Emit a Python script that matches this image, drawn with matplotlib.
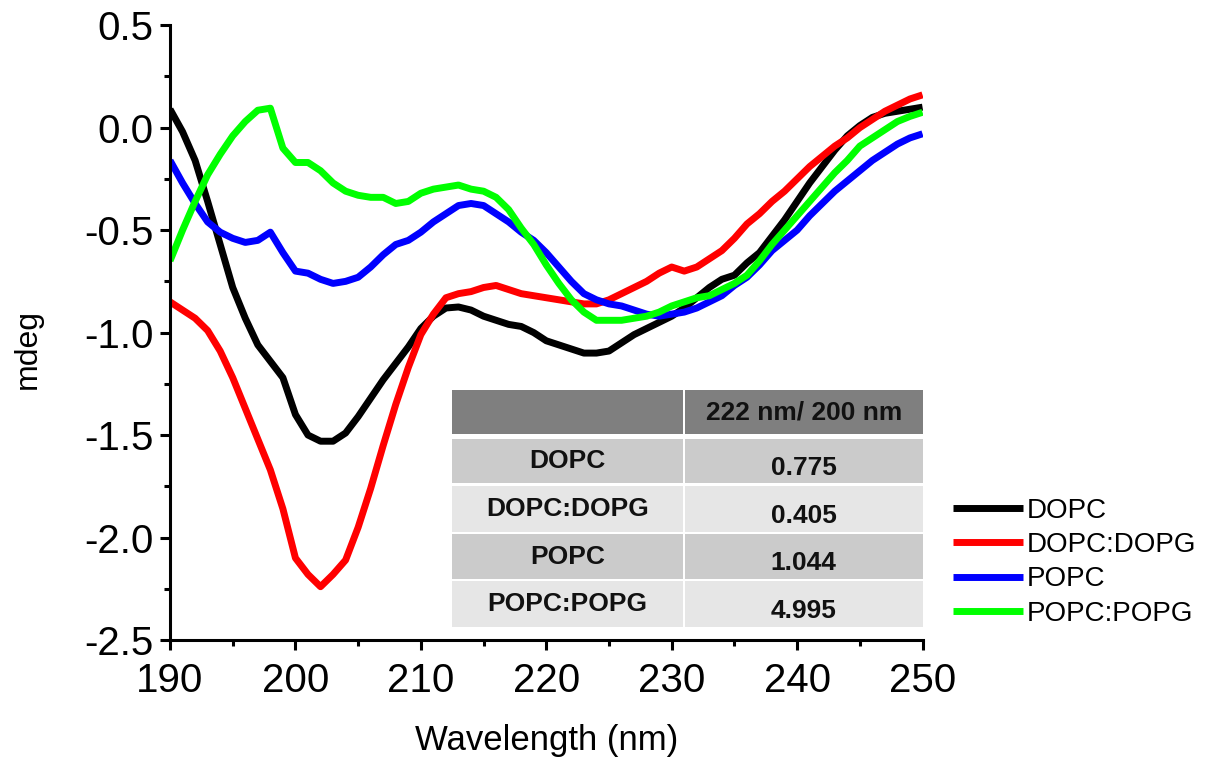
import numpy as np
import matplotlib
matplotlib.use("Agg")
import matplotlib.pyplot as plt
from matplotlib.patches import Rectangle
from matplotlib.ticker import MultipleLocator, FormatStrFormatter

plt.rcParams["font.family"] = ["Liberation Sans", "DejaVu Sans"]
plt.rcParams["axes.unicode_minus"] = False

wavelength = np.arange(190, 251)

dopc = [0.09, -0.02, -0.16, -0.36, -0.57, -0.78, -0.93, -1.06, -1.14, -1.22,
        -1.40, -1.50, -1.53, -1.53, -1.49, -1.41, -1.32, -1.23, -1.15, -1.07,
        -0.98, -0.92, -0.88, -0.875, -0.89, -0.92, -0.94, -0.96, -0.97, -1.00,
        -1.04, -1.06, -1.08, -1.10, -1.10, -1.09, -1.05, -1.01, -0.98, -0.95,
        -0.92, -0.88, -0.83, -0.78, -0.74, -0.72, -0.66, -0.61, -0.53, -0.45,
        -0.36, -0.27, -0.19, -0.11, -0.04, 0.01, 0.05, 0.07, 0.08, 0.09, 0.10]

dopc_dopg = [-0.85, -0.89, -0.93, -0.99, -1.09, -1.22, -1.37, -1.52, -1.67, -1.86,
             -2.10, -2.18, -2.24, -2.18, -2.11, -1.95, -1.76, -1.55, -1.35, -1.17,
             -1.01, -0.91, -0.83, -0.81, -0.80, -0.78, -0.77, -0.79, -0.81, -0.82,
             -0.83, -0.84, -0.85, -0.86, -0.86, -0.84, -0.81, -0.78, -0.75, -0.71,
             -0.68, -0.70, -0.68, -0.64, -0.60, -0.54, -0.47, -0.42, -0.36, -0.31,
             -0.25, -0.19, -0.14, -0.09, -0.05, 0.00, 0.04, 0.08, 0.11, 0.14, 0.16]

popc = [-0.16, -0.27, -0.37, -0.46, -0.51, -0.54, -0.56, -0.55, -0.51, -0.61,
        -0.70, -0.71, -0.74, -0.76, -0.75, -0.73, -0.68, -0.62, -0.57, -0.55,
        -0.51, -0.46, -0.42, -0.38, -0.37, -0.38, -0.42, -0.46, -0.51, -0.55,
        -0.61, -0.68, -0.75, -0.81, -0.84, -0.86, -0.87, -0.89, -0.91, -0.92,
        -0.91, -0.90, -0.88, -0.85, -0.82, -0.77, -0.73, -0.67, -0.60, -0.55,
        -0.50, -0.43, -0.37, -0.31, -0.26, -0.21, -0.16, -0.12, -0.08, -0.05, -0.03]

popc_popg = [-0.65, -0.50, -0.36, -0.23, -0.13, -0.04, 0.03, 0.085, 0.095, -0.10,
             -0.17, -0.17, -0.21, -0.27, -0.31, -0.33, -0.34, -0.34, -0.37, -0.36,
             -0.32, -0.30, -0.29, -0.28, -0.30, -0.31, -0.34, -0.40, -0.49, -0.57,
             -0.67, -0.76, -0.84, -0.90, -0.94, -0.94, -0.94, -0.93, -0.92, -0.90,
             -0.87, -0.85, -0.83, -0.82, -0.79, -0.76, -0.72, -0.65, -0.57, -0.50,
             -0.43, -0.36, -0.29, -0.22, -0.16, -0.09, -0.05, -0.01, 0.03, 0.055, 0.075]

series_names = ["DOPC", "DOPC:DOPG", "POPC", "POPC:POPG"]
series_values = [dopc, dopc_dopg, popc, popc_popg]
series_colors = ["#000000", "#ff0000", "#0000ff", "#00ff00"]

table_header = "222 nm/ 200 nm"
table_ratios = ["0.775", "0.405", "1.044", "4.995"]

fig = plt.figure(figsize=(12.11, 7.61), dpi=100)
ax = fig.add_axes([0.1404, 0.159, 0.6214, 0.8079])

for name, vals, col in zip(series_names, series_values, series_colors):
    ax.plot(wavelength, vals, color=col, lw=5, label=name, solid_capstyle="butt")

ax.set_xlim(190, 250)
ax.set_ylim(-2.5, 0.5)
ax.xaxis.set_major_locator(MultipleLocator(10))
ax.xaxis.set_minor_locator(MultipleLocator(5))
ax.yaxis.set_major_locator(MultipleLocator(0.5))
ax.yaxis.set_minor_locator(MultipleLocator(0.25))
ax.yaxis.set_major_formatter(FormatStrFormatter("%.1f"))

for side in ["top", "right"]:
    ax.spines[side].set_visible(False)
for side in ["left", "bottom"]:
    ax.spines[side].set_linewidth(2.2)

ax.tick_params(which="major", direction="out", length=7, width=2.2,
               labelsize=29)
ax.tick_params(axis="y", which="major", pad=5)
ax.tick_params(axis="x", which="major", pad=9)
ax.tick_params(which="minor", direction="out", length=4, width=2.2)

ax.set_xlabel("Wavelength (nm)", fontsize=25, labelpad=17)
ax.set_ylabel("mdeg", fontsize=23)
ax.yaxis.set_label_coords(-0.169, 0.473)

# Summary table in the lower right of the plot area (axes fraction)
col_edges = [(0.3747, 0.6813), (0.684, 1.0)]
row_edges = [(0.335, 0.4065), (0.2553, 0.3268), (0.1756, 0.2504),
             (0.0992, 0.1724), (0.0211, 0.0959)]
row_colors = ["#7f7f7f", "#cbcbcb", "#e6e6e6", "#cbcbcb", "#e6e6e6"]
labels_col1 = [""] + series_names
labels_col2 = [table_header] + table_ratios

for r, ((y0, y1), fc) in enumerate(zip(row_edges, row_colors)):
    for c, (x0, x1) in enumerate(col_edges):
        ax.add_patch(Rectangle((x0, y0), x1 - x0, y1 - y0, transform=ax.transAxes,
                               facecolor=fc, edgecolor="none", zorder=5,
                               clip_on=False))
        txt = labels_col1[r] if c == 0 else labels_col2[r]
        if not txt:
            continue
        yc = (y0 + y1) / 2
        if c == 1 and r > 0:
            yc -= 0.011
        ax.text((x0 + x1) / 2, yc, txt, transform=ax.transAxes, ha="center",
                va="center", fontsize=19, fontweight="bold", color="#111111",
                zorder=6)

fig.legend(loc="upper left", bbox_to_anchor=(0.787, 0.346), frameon=False,
           fontsize=20, handlelength=2.5, handletextpad=0.15, labelspacing=0.3,
           borderaxespad=0, borderpad=0)

fig.savefig("out.png", dpi=100)
